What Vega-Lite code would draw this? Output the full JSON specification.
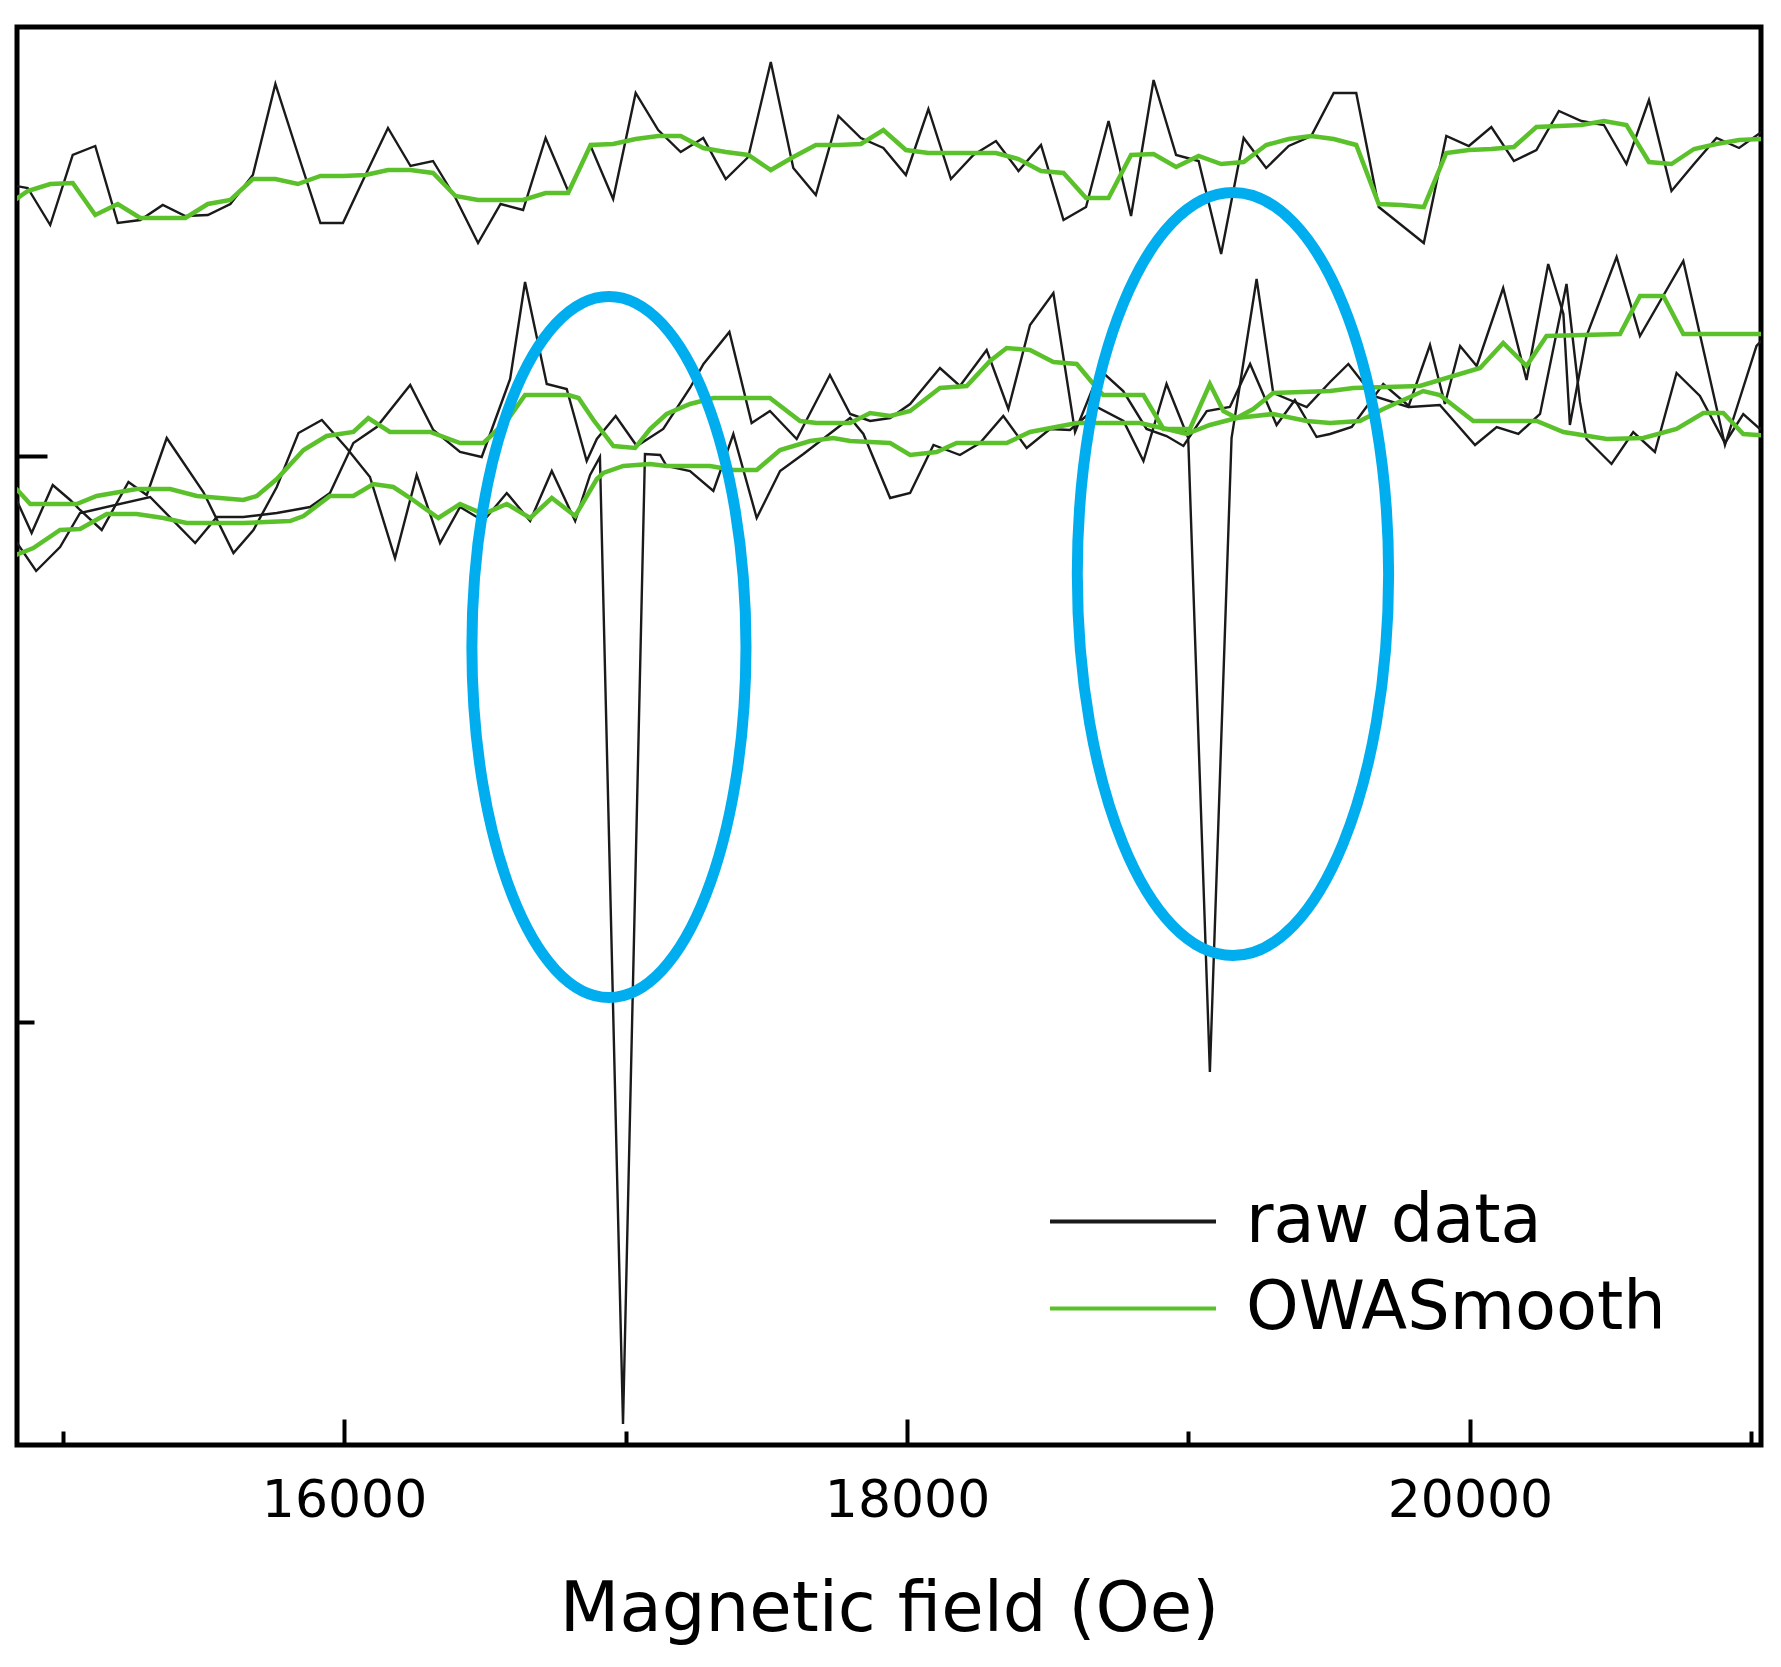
{
  "$schema": "https://vega.github.io/schema/vega-lite/v6.json",
  "description": "Raw data and OWA smoothed traces against magnetic field, two absorption dips circled",
  "width": 1744,
  "height": 1418,
  "autosize": {"type": "none"},
  "padding": {"left": 17, "top": 27, "right": 20, "bottom": 222},
  "background": "white",
  "config": {
    "font": "DejaVu Sans",
    "view": {"stroke": "black", "strokeWidth": 5},
    "axis": {"domain": false, "grid": false, "tickColor": "black", "tickWidth": 4, "labelColor": "black", "titleColor": "black"}
  },
  "datasets": {
    "raw": [
      {"s":"r1","x":14796,"y":1404},{"s":"r1","x":14876,"y":1400},{"s":"r1","x":14956,"y":1363},{"s":"r1","x":15036,"y":1433},
      {"s":"r1","x":15116,"y":1442},{"s":"r1","x":15196,"y":1365},{"s":"r1","x":15276,"y":1368},{"s":"r1","x":15356,"y":1383},
      {"s":"r1","x":15436,"y":1372},{"s":"r1","x":15516,"y":1373},{"s":"r1","x":15596,"y":1384},{"s":"r1","x":15676,"y":1413},
      {"s":"r1","x":15756,"y":1504},{"s":"r1","x":15836,"y":1434},{"s":"r1","x":15916,"y":1365},{"s":"r1","x":15996,"y":1365},
      {"s":"r1","x":16076,"y":1413},{"s":"r1","x":16156,"y":1460},{"s":"r1","x":16236,"y":1422},{"s":"r1","x":16316,"y":1427},
      {"s":"r1","x":16396,"y":1390},{"s":"r1","x":16476,"y":1345},{"s":"r1","x":16556,"y":1384},{"s":"r1","x":16636,"y":1378},
      {"s":"r1","x":16716,"y":1450},{"s":"r1","x":16796,"y":1397},{"s":"r1","x":16876,"y":1442},{"s":"r1","x":16956,"y":1389},
      {"s":"r1","x":17036,"y":1495},{"s":"r1","x":17116,"y":1458},{"s":"r1","x":17196,"y":1436},{"s":"r1","x":17276,"y":1450},
      {"s":"r1","x":17356,"y":1409},{"s":"r1","x":17436,"y":1431},{"s":"r1","x":17516,"y":1526},{"s":"r1","x":17596,"y":1420},
      {"s":"r1","x":17676,"y":1393},{"s":"r1","x":17756,"y":1472},{"s":"r1","x":17836,"y":1450},{"s":"r1","x":17916,"y":1440},
      {"s":"r1","x":17996,"y":1413},{"s":"r1","x":18076,"y":1479},{"s":"r1","x":18156,"y":1409},{"s":"r1","x":18236,"y":1433},
      {"s":"r1","x":18316,"y":1447},{"s":"r1","x":18396,"y":1417},{"s":"r1","x":18476,"y":1443},{"s":"r1","x":18556,"y":1368},
      {"s":"r1","x":18636,"y":1381},{"s":"r1","x":18716,"y":1467},{"s":"r1","x":18796,"y":1372},{"s":"r1","x":18876,"y":1508},
      {"s":"r1","x":18956,"y":1433},{"s":"r1","x":19036,"y":1427},{"s":"r1","x":19116,"y":1334},{"s":"r1","x":19196,"y":1450},
      {"s":"r1","x":19276,"y":1420},{"s":"r1","x":19356,"y":1442},{"s":"r1","x":19436,"y":1452},{"s":"r1","x":19516,"y":1495},
      {"s":"r1","x":19596,"y":1495},{"s":"r1","x":19676,"y":1381},{"s":"r1","x":19756,"y":1363},{"s":"r1","x":19836,"y":1345},
      {"s":"r1","x":19916,"y":1452},{"s":"r1","x":19996,"y":1442},{"s":"r1","x":20076,"y":1461},{"s":"r1","x":20156,"y":1427},
      {"s":"r1","x":20236,"y":1438},{"s":"r1","x":20316,"y":1477},{"s":"r1","x":20396,"y":1467},{"s":"r1","x":20476,"y":1463},
      {"s":"r1","x":20556,"y":1424},{"s":"r1","x":20636,"y":1488},{"s":"r1","x":20716,"y":1397},{"s":"r1","x":20796,"y":1424},
      {"s":"r1","x":20876,"y":1450},{"s":"r1","x":20956,"y":1440},{"s":"r1","x":21036,"y":1456},

      {"s":"r2","x":14814,"y":1055},{"s":"r2","x":14906,"y":1017},{"s":"r2","x":14991,"y":1041},{"s":"r2","x":15062,"y":1075},
      {"s":"r2","x":15110,"y":1078},{"s":"r2","x":15311,"y":1091},{"s":"r2","x":15471,"y":1045},{"s":"r2","x":15548,"y":1071},
      {"s":"r2","x":15642,"y":1071},{"s":"r2","x":15761,"y":1075},{"s":"r2","x":15879,"y":1081},{"s":"r2","x":15950,"y":1095},
      {"s":"r2","x":16033,"y":1145},{"s":"r2","x":16116,"y":1161},{"s":"r2","x":16235,"y":1203},{"s":"r2","x":16317,"y":1158},
      {"s":"r2","x":16412,"y":1136},{"s":"r2","x":16489,"y":1131},{"s":"r2","x":16590,"y":1209},{"s":"r2","x":16643,"y":1306},
      {"s":"r2","x":16720,"y":1204},{"s":"r2","x":16791,"y":1199},{"s":"r2","x":16862,"y":1127},{"s":"r2","x":16898,"y":1149},
      {"s":"r2","x":16965,"y":1172},{"s":"r2","x":17040,"y":1142},{"s":"r2","x":17134,"y":1159},{"s":"r2","x":17229,"y":1200},
      {"s":"r2","x":17277,"y":1224},{"s":"r2","x":17369,"y":1256},{"s":"r2","x":17448,"y":1165},{"s":"r2","x":17513,"y":1177},
      {"s":"r2","x":17608,"y":1149},{"s":"r2","x":17726,"y":1213},{"s":"r2","x":17798,"y":1174},{"s":"r2","x":17869,"y":1167},
      {"s":"r2","x":17940,"y":1170},{"s":"r2","x":18011,"y":1184},{"s":"r2","x":18117,"y":1220},{"s":"r2","x":18188,"y":1202},
      {"s":"r2","x":18283,"y":1238},{"s":"r2","x":18360,"y":1179},{"s":"r2","x":18437,"y":1263},{"s":"r2","x":18520,"y":1295},
      {"s":"r2","x":18597,"y":1156},{"s":"r2","x":18686,"y":1218},{"s":"r2","x":18768,"y":1197},{"s":"r2","x":18851,"y":1159},
      {"s":"r2","x":18922,"y":1152},{"s":"r2","x":18982,"y":1142},{"s":"r2","x":19065,"y":1177},{"s":"r2","x":19147,"y":1181},
      {"s":"r2","x":19219,"y":1224},{"s":"r2","x":19313,"y":1163},{"s":"r2","x":19378,"y":1188},{"s":"r2","x":19455,"y":1151},
      {"s":"r2","x":19503,"y":1154},{"s":"r2","x":19580,"y":1161},{"s":"r2","x":19692,"y":1204},{"s":"r2","x":19787,"y":1181},
      {"s":"r2","x":19893,"y":1183},{"s":"r2","x":20018,"y":1143},{"s":"r2","x":20095,"y":1161},{"s":"r2","x":20172,"y":1154},
      {"s":"r2","x":20249,"y":1174},{"s":"r2","x":20343,"y":1304},{"s":"r2","x":20391,"y":1186},{"s":"r2","x":20414,"y":1149},
      {"s":"r2","x":20503,"y":1124},{"s":"r2","x":20580,"y":1156},{"s":"r2","x":20657,"y":1136},{"s":"r2","x":20734,"y":1215},
      {"s":"r2","x":20817,"y":1192},{"s":"r2","x":20906,"y":1145},{"s":"r2","x":20971,"y":1174},{"s":"r2","x":21030,"y":1159},
      {"s":"r2","x":21066,"y":1167},

      {"s":"r3","x":14830,"y":1092},{"s":"r3","x":14890,"y":1055},{"s":"r3","x":14965,"y":1103},{"s":"r3","x":15027,"y":1088},
      {"s":"r3","x":15062,"y":1078},{"s":"r3","x":15139,"y":1058},{"s":"r3","x":15234,"y":1106},{"s":"r3","x":15299,"y":1093},
      {"s":"r3","x":15370,"y":1150},{"s":"r3","x":15500,"y":1096},{"s":"r3","x":15607,"y":1035},{"s":"r3","x":15678,"y":1058},
      {"s":"r3","x":15761,"y":1101},{"s":"r3","x":15838,"y":1155},{"s":"r3","x":15921,"y":1168},{"s":"r3","x":16009,"y":1140},
      {"s":"r3","x":16092,"y":1111},{"s":"r3","x":16181,"y":1030},{"s":"r3","x":16258,"y":1113},{"s":"r3","x":16341,"y":1045},
      {"s":"r3","x":16412,"y":1081},{"s":"r3","x":16495,"y":1067},{"s":"r3","x":16578,"y":1095},{"s":"r3","x":16661,"y":1067},
      {"s":"r3","x":16738,"y":1117},{"s":"r3","x":16821,"y":1067},{"s":"r3","x":16874,"y":1113},{"s":"r3","x":16909,"y":1131},
      {"s":"r3","x":16991,"y":164},{"s":"r3","x":17069,"y":1134},{"s":"r3","x":17123,"y":1133},{"s":"r3","x":17146,"y":1122},
      {"s":"r3","x":17229,"y":1117},{"s":"r3","x":17312,"y":1097},{"s":"r3","x":17383,"y":1154},{"s":"r3","x":17466,"y":1070},
      {"s":"r3","x":17549,"y":1117},{"s":"r3","x":17632,"y":1134},{"s":"r3","x":17715,"y":1152},{"s":"r3","x":17798,"y":1170},
      {"s":"r3","x":17845,"y":1154},{"s":"r3","x":17940,"y":1090},{"s":"r3","x":18011,"y":1095},{"s":"r3","x":18094,"y":1143},
      {"s":"r3","x":18188,"y":1133},{"s":"r3","x":18259,"y":1145},{"s":"r3","x":18342,"y":1172},{"s":"r3","x":18425,"y":1140},
      {"s":"r3","x":18508,"y":1159},{"s":"r3","x":18579,"y":1158},{"s":"r3","x":18674,"y":1181},{"s":"r3","x":18769,"y":1167},
      {"s":"r3","x":18840,"y":1127},{"s":"r3","x":18922,"y":1204},{"s":"r3","x":18999,"y":1150},{"s":"r3","x":19076,"y":516},
      {"s":"r3","x":19153,"y":1150},{"s":"r3","x":19242,"y":1309},{"s":"r3","x":19301,"y":1195},{"s":"r3","x":19420,"y":1181},
      {"s":"r3","x":19503,"y":1206},{"s":"r3","x":19568,"y":1224},{"s":"r3","x":19657,"y":1192},{"s":"r3","x":19781,"y":1181},
      {"s":"r3","x":19858,"y":1243},{"s":"r3","x":19911,"y":1184},{"s":"r3","x":19965,"y":1242},{"s":"r3","x":20024,"y":1222},
      {"s":"r3","x":20118,"y":1300},{"s":"r3","x":20201,"y":1208},{"s":"r3","x":20278,"y":1324},{"s":"r3","x":20332,"y":1274},
      {"s":"r3","x":20355,"y":1163},{"s":"r3","x":20414,"y":1252},{"s":"r3","x":20521,"y":1331},{"s":"r3","x":20604,"y":1252},
      {"s":"r3","x":20758,"y":1327},{"s":"r3","x":20906,"y":1143},{"s":"r3","x":21018,"y":1242},{"s":"r3","x":21066,"y":1256}
    ],
    "smooth": [
      {"s":"s1","x":14796,"y":1381},{"s":"s1","x":14876,"y":1397},{"s":"s1","x":14956,"y":1404},{"s":"s1","x":15036,"y":1405},
      {"s":"s1","x":15116,"y":1373},{"s":"s1","x":15196,"y":1384},{"s":"s1","x":15276,"y":1370},{"s":"s1","x":15356,"y":1370},
      {"s":"s1","x":15436,"y":1370},{"s":"s1","x":15516,"y":1384},{"s":"s1","x":15596,"y":1388},{"s":"s1","x":15676,"y":1409},
      {"s":"s1","x":15756,"y":1409},{"s":"s1","x":15836,"y":1404},{"s":"s1","x":15916,"y":1412},{"s":"s1","x":15996,"y":1412},
      {"s":"s1","x":16076,"y":1413},{"s":"s1","x":16156,"y":1418},{"s":"s1","x":16236,"y":1418},{"s":"s1","x":16316,"y":1415},
      {"s":"s1","x":16396,"y":1392},{"s":"s1","x":16476,"y":1388},{"s":"s1","x":16556,"y":1388},{"s":"s1","x":16636,"y":1388},
      {"s":"s1","x":16716,"y":1395},{"s":"s1","x":16796,"y":1395},{"s":"s1","x":16876,"y":1443},{"s":"s1","x":16956,"y":1444},
      {"s":"s1","x":17036,"y":1449},{"s":"s1","x":17116,"y":1452},{"s":"s1","x":17196,"y":1452},{"s":"s1","x":17276,"y":1440},
      {"s":"s1","x":17356,"y":1436},{"s":"s1","x":17436,"y":1433},{"s":"s1","x":17516,"y":1418},{"s":"s1","x":17596,"y":1431},
      {"s":"s1","x":17676,"y":1443},{"s":"s1","x":17756,"y":1443},{"s":"s1","x":17836,"y":1444},{"s":"s1","x":17916,"y":1458},
      {"s":"s1","x":17996,"y":1438},{"s":"s1","x":18076,"y":1435},{"s":"s1","x":18156,"y":1435},{"s":"s1","x":18236,"y":1435},
      {"s":"s1","x":18316,"y":1435},{"s":"s1","x":18396,"y":1429},{"s":"s1","x":18476,"y":1417},{"s":"s1","x":18556,"y":1415},
      {"s":"s1","x":18636,"y":1390},{"s":"s1","x":18716,"y":1390},{"s":"s1","x":18796,"y":1433},{"s":"s1","x":18876,"y":1434},
      {"s":"s1","x":18956,"y":1421},{"s":"s1","x":19036,"y":1432},{"s":"s1","x":19116,"y":1424},{"s":"s1","x":19196,"y":1426},
      {"s":"s1","x":19276,"y":1443},{"s":"s1","x":19356,"y":1449},{"s":"s1","x":19436,"y":1452},{"s":"s1","x":19516,"y":1449},
      {"s":"s1","x":19596,"y":1443},{"s":"s1","x":19676,"y":1384},{"s":"s1","x":19756,"y":1383},{"s":"s1","x":19836,"y":1381},
      {"s":"s1","x":19916,"y":1435},{"s":"s1","x":19996,"y":1438},{"s":"s1","x":20076,"y":1439},{"s":"s1","x":20156,"y":1441},
      {"s":"s1","x":20236,"y":1461},{"s":"s1","x":20316,"y":1462},{"s":"s1","x":20396,"y":1463},{"s":"s1","x":20476,"y":1467},
      {"s":"s1","x":20556,"y":1463},{"s":"s1","x":20636,"y":1426},{"s":"s1","x":20716,"y":1424},{"s":"s1","x":20796,"y":1439},
      {"s":"s1","x":20876,"y":1444},{"s":"s1","x":20956,"y":1448},{"s":"s1","x":21036,"y":1449},

      {"s":"s2","x":14814,"y":1104},{"s":"s2","x":14843,"y":1097},{"s":"s2","x":14885,"y":1084},{"s":"s2","x":15050,"y":1084},
      {"s":"s2","x":15121,"y":1092},{"s":"s2","x":15263,"y":1099},{"s":"s2","x":15382,"y":1099},{"s":"s2","x":15477,"y":1092},
      {"s":"s2","x":15642,"y":1088},{"s":"s2","x":15690,"y":1092},{"s":"s2","x":15761,"y":1109},{"s":"s2","x":15856,"y":1138},
      {"s":"s2","x":15938,"y":1152},{"s":"s2","x":16033,"y":1156},{"s":"s2","x":16086,"y":1170},{"s":"s2","x":16163,"y":1156},
      {"s":"s2","x":16306,"y":1156},{"s":"s2","x":16412,"y":1145},{"s":"s2","x":16495,"y":1145},{"s":"s2","x":16578,"y":1167},
      {"s":"s2","x":16643,"y":1193},{"s":"s2","x":16797,"y":1193},{"s":"s2","x":16833,"y":1190},{"s":"s2","x":16886,"y":1168},
      {"s":"s2","x":16957,"y":1142},{"s":"s2","x":17034,"y":1140},{"s":"s2","x":17087,"y":1159},{"s":"s2","x":17146,"y":1174},
      {"s":"s2","x":17229,"y":1184},{"s":"s2","x":17312,"y":1190},{"s":"s2","x":17513,"y":1190},{"s":"s2","x":17620,"y":1167},
      {"s":"s2","x":17679,"y":1165},{"s":"s2","x":17798,"y":1165},{"s":"s2","x":17869,"y":1175},{"s":"s2","x":17940,"y":1172},
      {"s":"s2","x":18011,"y":1177},{"s":"s2","x":18117,"y":1200},{"s":"s2","x":18212,"y":1202},{"s":"s2","x":18295,"y":1227},
      {"s":"s2","x":18354,"y":1240},{"s":"s2","x":18437,"y":1238},{"s":"s2","x":18520,"y":1226},{"s":"s2","x":18603,"y":1224},
      {"s":"s2","x":18674,"y":1200},{"s":"s2","x":18697,"y":1193},{"s":"s2","x":18840,"y":1193},{"s":"s2","x":18911,"y":1159},
      {"s":"s2","x":19005,"y":1159},{"s":"s2","x":19076,"y":1204},{"s":"s2","x":19124,"y":1177},{"s":"s2","x":19171,"y":1170},
      {"s":"s2","x":19230,"y":1179},{"s":"s2","x":19301,"y":1195},{"s":"s2","x":19503,"y":1197},{"s":"s2","x":19586,"y":1200},
      {"s":"s2","x":19822,"y":1202},{"s":"s2","x":20036,"y":1220},{"s":"s2","x":20118,"y":1245},{"s":"s2","x":20201,"y":1222},
      {"s":"s2","x":20272,"y":1252},{"s":"s2","x":20533,"y":1254},{"s":"s2","x":20604,"y":1292},{"s":"s2","x":20687,"y":1292},
      {"s":"s2","x":20758,"y":1254},{"s":"s2","x":21066,"y":1254},

      {"s":"s3","x":14814,"y":1031},{"s":"s3","x":14843,"y":1034},{"s":"s3","x":14896,"y":1040},{"s":"s3","x":14991,"y":1058},
      {"s":"s3","x":15062,"y":1059},{"s":"s3","x":15157,"y":1074},{"s":"s3","x":15263,"y":1074},{"s":"s3","x":15358,"y":1070},
      {"s":"s3","x":15441,"y":1065},{"s":"s3","x":15642,"y":1065},{"s":"s3","x":15808,"y":1067},{"s":"s3","x":15856,"y":1072},
      {"s":"s3","x":15950,"y":1092},{"s":"s3","x":16033,"y":1092},{"s":"s3","x":16104,"y":1104},{"s":"s3","x":16175,"y":1101},
      {"s":"s3","x":16235,"y":1090},{"s":"s3","x":16335,"y":1070},{"s":"s3","x":16412,"y":1084},{"s":"s3","x":16495,"y":1074},
      {"s":"s3","x":16578,"y":1084},{"s":"s3","x":16661,"y":1070},{"s":"s3","x":16738,"y":1090},{"s":"s3","x":16821,"y":1072},
      {"s":"s3","x":16898,"y":1109},{"s":"s3","x":16921,"y":1115},{"s":"s3","x":16992,"y":1122},{"s":"s3","x":17087,"y":1124},
      {"s":"s3","x":17146,"y":1122},{"s":"s3","x":17300,"y":1122},{"s":"s3","x":17383,"y":1118},{"s":"s3","x":17466,"y":1118},
      {"s":"s3","x":17549,"y":1138},{"s":"s3","x":17656,"y":1147},{"s":"s3","x":17738,"y":1150},{"s":"s3","x":17798,"y":1147},
      {"s":"s3","x":17940,"y":1145},{"s":"s3","x":18011,"y":1133},{"s":"s3","x":18105,"y":1136},{"s":"s3","x":18176,"y":1145},
      {"s":"s3","x":18354,"y":1145},{"s":"s3","x":18437,"y":1156},{"s":"s3","x":18603,"y":1165},{"s":"s3","x":18828,"y":1165},
      {"s":"s3","x":18922,"y":1159},{"s":"s3","x":18993,"y":1154},{"s":"s3","x":19076,"y":1163},{"s":"s3","x":19171,"y":1170},
      {"s":"s3","x":19301,"y":1174},{"s":"s3","x":19420,"y":1167},{"s":"s3","x":19503,"y":1165},{"s":"s3","x":19609,"y":1167},
      {"s":"s3","x":19692,"y":1179},{"s":"s3","x":19834,"y":1197},{"s":"s3","x":19893,"y":1193},{"s":"s3","x":20012,"y":1167},
      {"s":"s3","x":20237,"y":1167},{"s":"s3","x":20332,"y":1156},{"s":"s3","x":20486,"y":1149},{"s":"s3","x":20616,"y":1150},
      {"s":"s3","x":20734,"y":1159},{"s":"s3","x":20829,"y":1175},{"s":"s3","x":20900,"y":1175},{"s":"s3","x":20971,"y":1154},
      {"s":"s3","x":21066,"y":1152}
    ],
    "ring1": [{"x": 16941, "y": 941}],
    "ring2": [{"x": 19158, "y": 1014}]
  },
  "encoding": {
    "x": {
      "field": "x",
      "type": "quantitative",
      "scale": {"domain": [14838, 21034], "nice": false, "zero": false},
      "axis": {
        "values": [15000, 16000, 17000, 18000, 19000, 20000, 21000],
        "format": "d",
        "labelExpr": "datum.value % 2000 == 0 ? datum.label : ''",
        "tickSize": {"condition": {"test": "datum.value % 2000 == 0", "value": -26}, "value": -14},
        "labelFont": "DejaVu Sans",
        "labelFontSize": 52,
        "labelPadding": 56,
        "labelFlush": false,
        "title": "Magnetic field (Oe)",
        "titleFont": "DejaVu Sans",
        "titleFontSize": 69,
        "titleFontWeight": "normal",
        "titleBaseline": "alphabetic",
        "titleY": 185
      }
    },
    "y": {
      "field": "y",
      "type": "quantitative",
      "scale": {"domain": [143, 1561], "nice": false, "zero": false},
      "axis": {
        "values": [566, 1132],
        "labels": false,
        "title": null,
        "tickSize": {"condition": {"test": "datum.value == 1132", "value": -30}, "value": -17}
      }
    }
  },
  "layer": [
    {
      "data": {"name": "raw"},
      "mark": {"type": "line", "clip": true, "strokeWidth": 2.4},
      "encoding": {
        "detail": {"field": "s", "type": "nominal"},
        "color": {
          "datum": "raw data",
          "scale": {"domain": ["raw data", "OWASmooth"], "range": ["#1a1a1a", "#5bc12b"]},
          "legend": {
            "title": null,
            "orient": "none",
            "legendX": 1031,
            "legendY": 1151,
            "symbolType": "stroke",
            "symbolSize": 27556,
            "symbolStrokeWidth": 4,
            "labelFont": "DejaVu Sans",
            "labelFontSize": 67,
            "labelColor": "black",
            "labelOffset": 28,
            "labelLimit": 0,
            "clipHeight": 87,
            "rowPadding": 0,
            "padding": 0
          }
        }
      }
    },
    {
      "data": {"name": "smooth"},
      "mark": {"type": "line", "clip": true, "strokeWidth": 4.5},
      "encoding": {
        "detail": {"field": "s", "type": "nominal"},
        "color": {"datum": "OWASmooth"}
      }
    },
    {
      "data": {"name": "ring1"},
      "mark": {
        "type": "point",
        "shape": "M0,-1C0.216,-1,0.391,-0.552,0.391,0C0.391,0.552,0.216,1,0,1C-0.216,1,-0.391,0.552,-0.391,0C-0.391,-0.552,-0.216,-1,0,-1Z",
        "size": 491401,
        "filled": false,
        "stroke": "#00AEEF",
        "strokeWidth": 11,
        "opacity": 1
      }
    },
    {
      "data": {"name": "ring2"},
      "mark": {
        "type": "point",
        "shape": "M0,-1C0.225,-1,0.408,-0.552,0.408,0C0.408,0.552,0.225,1,0,1C-0.225,1,-0.408,0.552,-0.408,0C-0.408,-0.552,-0.225,-1,0,-1Z",
        "size": 582169,
        "filled": false,
        "stroke": "#00AEEF",
        "strokeWidth": 11,
        "opacity": 1
      }
    }
  ]
}
